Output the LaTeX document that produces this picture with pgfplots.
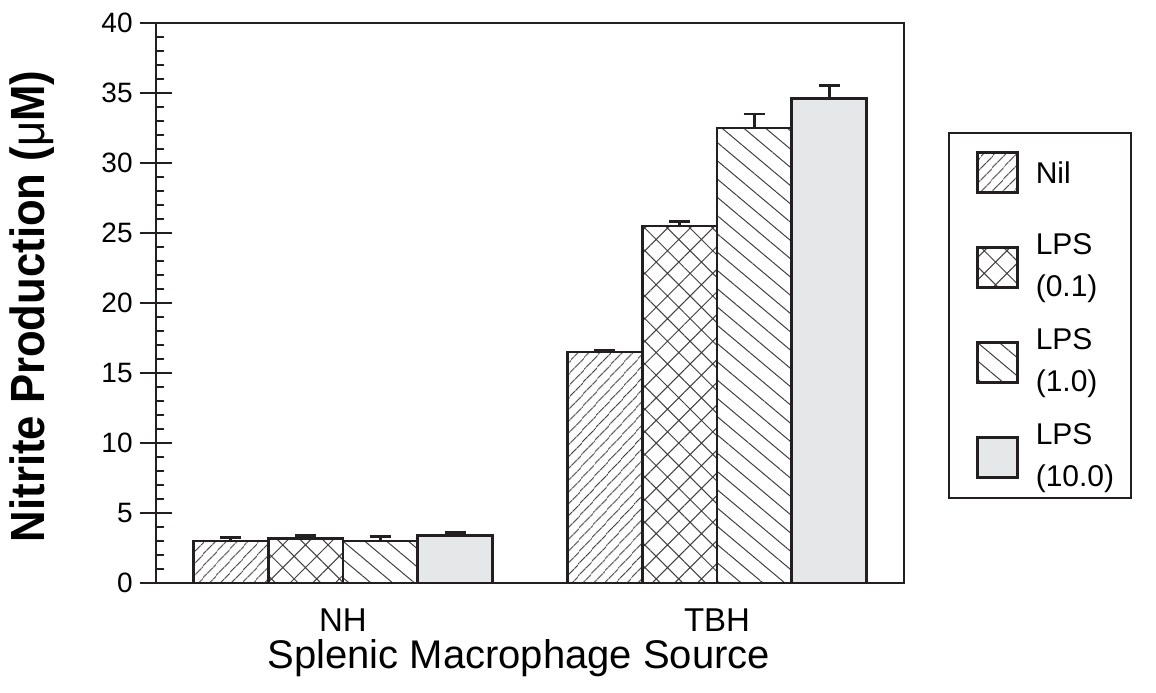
\documentclass[border=0pt]{standalone}
\usepackage{fontspec}
\setmainfont{Liberation Sans}
\usepackage{graphicx}
\usepackage{pgfplots}
\pgfplotsset{compat=1.18}
\usetikzlibrary{patterns.meta}
\definecolor{ink}{HTML}{231F20}
\definecolor{lightfill}{HTML}{E6E7E9}
\newcommand{\tfont}{\fontsize{14}{16}\selectfont}
\newcommand{\xfont}{\fontsize{16.5}{19}\selectfont}
\begin{document}
\begin{tikzpicture}
\pgfplotsset{
  sq/.style={legend image code/.code={\draw[##1] (0pt,-10pt) rectangle (20pt,10pt); \path (-13.5pt,0pt);}},
  eb/.style={error bars/.cd, y dir=plus, y explicit,
    error bar style={ink, line width=1.4pt, solid},
    error mark options={rotate=90, mark size=5.2pt, line width=1.4pt, ink}},
}
\begin{axis}[
  scale only axis, width=374pt, height=280pt,
  xmin=-0.5, xmax=1.5, ymin=0, ymax=40,
  xtick={0,1}, xticklabels={{\xfont NH},{\xfont TBH}},
  ytick={0,5,...,40}, minor y tick num=4,
  yticklabel={\tfont\pgfmathprintnumber{\tick}},
  extra y ticks={0,5,...,40}, extra y tick labels={},
  extra y tick style={tick align=outside},
  ytick pos=left,
  xtick style={draw=none},
  tick align=inside,
  major tick length=8pt, minor tick length=4pt,
  tick style={ink, line width=0.7pt},
  axis line style={ink, line width=1.4pt},
  /pgf/number format/assume math mode=true,
  yticklabel style={anchor=east, inner sep=0pt, xshift=-11.5pt},
  xticklabel style={anchor=base, inner sep=0pt, yshift=-24pt},
  ylabel={\scalebox{0.91}[1]{\bfseries Nitrite Production ({\mdseries μ}M)}},
  ylabel style={font=\fontsize{24}{28}\selectfont, at={(axis description cs:-0.165,0.494)}, anchor=center},
  xlabel={Splenic Macrophage Source},
  xlabel style={font=\fontsize{20}{24}\selectfont, at={(axis description cs:0.485,-0.152)}, anchor=base},
  legend style={at={(1.0588,0.806)}, anchor=north west, draw=ink, line width=1pt,
    inner xsep=0pt, inner ysep=0pt, row sep=7.5pt, column sep=8.5pt,
    font=\fontsize{15}{21}\selectfont, nodes={inner sep=0pt, text depth=}},
  legend cell align=left,
]
\addplot[ybar, bar width=0.2, bar shift=0, draw=ink, line width=1.4pt,
  pattern={Lines[angle=47,distance=4pt,line width=0.5pt]}, pattern color=black!75, sq, eb]
  coordinates {(-0.3,3.0) +- (0,0.25) (0.7,16.5) +- (0,0.15)};
\addlegendentry{\parbox[c][40pt][c]{47.5pt}{Nil}}
\addplot[ybar, bar width=0.2, bar shift=0, draw=ink, line width=1.4pt,
  pattern={Hatch[angle=45,distance=8pt,line width=0.5pt]}, pattern color=black!75, sq, eb]
  coordinates {(-0.1,3.2) +- (0,0.2) (0.9,25.5) +- (0,0.3)};
\addlegendentry{\parbox[c][40pt][c]{47.5pt}{LPS\\(0.1)}}
\addplot[ybar, bar width=0.2, bar shift=0, draw=ink, line width=1.4pt,
  pattern={Lines[angle=-40,distance=7pt,line width=0.5pt]}, pattern color=black!75, sq, eb]
  coordinates {(0.1,3.0) +- (0,0.3) (1.1,32.5) +- (0,1.0)};
\addlegendentry{\parbox[c][40pt][c]{47.5pt}{LPS\\(1.0)}}
\addplot[ybar, bar width=0.2, bar shift=0, draw=ink, line width=1.4pt,
  fill=lightfill, sq, eb]
  coordinates {(0.3,3.4) +- (0,0.22) (1.3,34.6) +- (0,0.95)};
\addlegendentry{\parbox[c][40pt][c]{47.5pt}{LPS\\(10.0)}}
\end{axis}
\pgfresetboundingbox
\path (-78pt,-54.5pt) rectangle (500pt,291.5pt);
\end{tikzpicture}
\end{document}
